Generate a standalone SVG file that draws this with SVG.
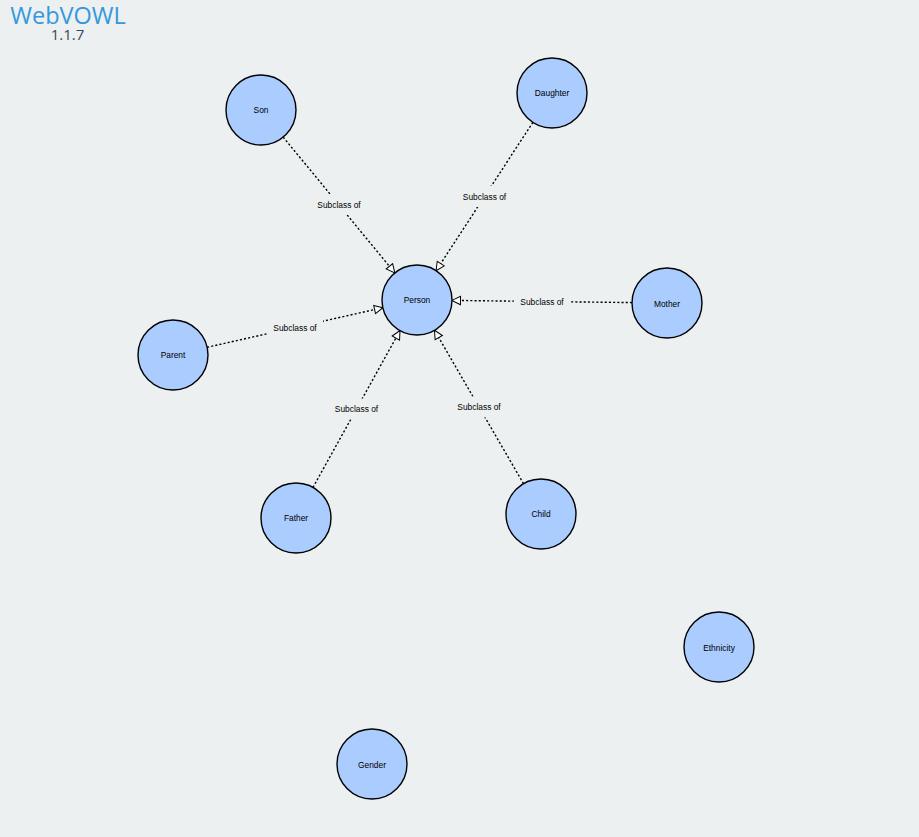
<svg xmlns="http://www.w3.org/2000/svg" width="919" height="837" viewBox="0 0 919 837">
<defs>
<marker id="arrow" markerUnits="userSpaceOnUse" markerWidth="12" markerHeight="12" viewBox="-1 -6 11 12" refX="8.5" refY="0" orient="auto">
<path d="M0,-4.2L8.5,0L0,4.2Z" fill="#ffffff" stroke="#000000" stroke-width="1"/>
</marker>
</defs>
<style>
.bg{fill:#ecf0f1}
.link{stroke:#000;stroke-width:1.4;stroke-dasharray:2.1 2.1;fill:none;marker-end:url(#arrow)}
.lbox{fill:#ecf0f1;stroke:none}
.ltext{font-family:"Liberation Sans",Arial,sans-serif;font-size:8.4px;fill:#000;text-anchor:middle;dominant-baseline:central}
.node circle{fill:#aaccff;stroke:#000;stroke-width:1.4}
.node text{font-family:"Liberation Sans",Arial,sans-serif;font-size:8.4px;fill:#000;text-anchor:middle;dominant-baseline:central}
.title{font-family:"Open Sans","DejaVu Sans",sans-serif;font-size:23.5px;fill:#3498db;text-anchor:middle}
.version{font-family:"Open Sans","DejaVu Sans",sans-serif;font-size:15px;fill:#34495e;text-anchor:middle}
</style>
<rect class="bg" x="0" y="0" width="919" height="837"/>
<g id="logo">
<text class="title" x="68" y="23.8">WebVOWL</text>
<text class="version" x="67.5" y="39.6">1.1.7</text>
</g>
<g id="connectors">
<line class="link" x1="283.2" y1="137.1" x2="394.8" y2="272.9"/>
<line class="link" x1="532.9" y1="122.3" x2="436.1" y2="270.7"/>
<line class="link" x1="632" y1="302.6" x2="452" y2="300.4"/>
<line class="link" x1="207.1" y1="347.3" x2="382.9" y2="307.7"/>
<line class="link" x1="313" y1="487.4" x2="400" y2="330.6"/>
<line class="link" x1="523.5" y1="483.7" x2="434.5" y2="330.3"/>
<g id="labels">
<rect class="lbox" x="311" y="194" width="56" height="21"/>
<text class="ltext" x="339" y="204.5">Subclass of</text>
<rect class="lbox" x="456.5" y="186" width="56" height="21"/>
<text class="ltext" x="484.5" y="196.5">Subclass of</text>
<rect class="lbox" x="514" y="291" width="56" height="21"/>
<text class="ltext" x="542" y="301.5">Subclass of</text>
<rect class="lbox" x="267" y="317" width="56" height="21"/>
<text class="ltext" x="295" y="327.5">Subclass of</text>
<rect class="lbox" x="328.5" y="398.5" width="56" height="21"/>
<text class="ltext" x="356.5" y="409">Subclass of</text>
<rect class="lbox" x="451" y="396.5" width="56" height="21"/>
<text class="ltext" x="479" y="407">Subclass of</text>
</g>
</g>
<g id="node-son" class="node"><circle cx="261" cy="110" r="35"/><text x="261" y="110">Son</text></g>
<g id="node-daughter" class="node"><circle cx="552" cy="93" r="35"/><text x="552" y="93">Daughter</text></g>
<g id="node-person" class="node"><circle cx="417" cy="300" r="35"/><text x="417" y="300">Person</text></g>
<g id="node-mother" class="node"><circle cx="667" cy="303" r="35"/><text x="667" y="303.5">Mother</text></g>
<g id="node-parent" class="node"><circle cx="173" cy="355" r="35"/><text x="173" y="355">Parent</text></g>
<g id="node-father" class="node"><circle cx="296" cy="518" r="35"/><text x="296" y="518">Father</text></g>
<g id="node-child" class="node"><circle cx="541" cy="514" r="35"/><text x="541" y="514">Child</text></g>
<g id="node-ethnicity" class="node"><circle cx="719" cy="647" r="35"/><text x="719" y="647.5">Ethnicity</text></g>
<g id="node-gender" class="node"><circle cx="372" cy="764" r="35"/><text x="372" y="764.5">Gender</text></g>
</svg>
